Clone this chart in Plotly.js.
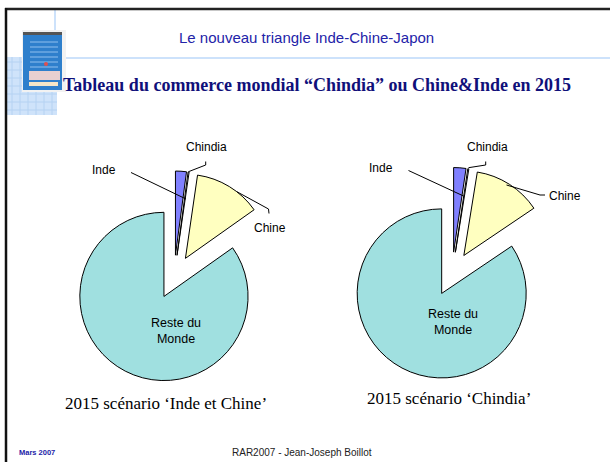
<!DOCTYPE html>
<html>
<head>
<meta charset="utf-8">
<script src="https://cdn.plot.ly/plotly-3.0.1.min.js"></script>
<style>html,body{margin:0;padding:0;background:#fff;}#chart{width:610px;height:462px;}</style>
</head>
<body>
<div id="chart"></div>
<script>
// ---- data ----
var categories = ["Inde", "Chindia", "Chine", "Reste du Monde"];
var valuesIndeEtChine = [2.1, 0.2, 12.9, 84.8];
var valuesChindia = [2.35, 0.2, 13.0, 84.45];
var sliceColors = ["#8080FF", "#FFFFFF", "#FFFFC0", "#A0E0E0"];
var pieLabels = ["Inde", "Chindia", "Chine", "Reste du<br>Monde"];
var slideTitle = "Le nouveau triangle Inde-Chine-Japon";
var slideSubtitle = "Tableau du commerce mondial \u201cChindia\u201d ou Chine&Inde en 2015";
var captions = ["2015 sc\u00e9nario \u2018Inde et Chine\u2019", "2015 sc\u00e9nario \u2018Chindia\u2019"];
var footerLeft = "Mars 2007";
var footerCenter = "RAR2007 - Jean-Joseph Boillot";

// ---- layout helpers (pixel -> paper) ----
var W = 610, H = 462;
function px(x){ return x / W; }
function py(y){ return 1 - y / H; }
function box(cx, cy, s){ return {x:[px(cx - s/2), px(cx + s/2)], y:[py(cy + s/2), py(cy - s/2)]}; }

var PULL = 0.26;
function pieTrace(vals, dom){
  return {
    type: "pie", labels: categories, values: vals, sort: false,
    direction: "clockwise", rotation: 0, pull: PULL,
    marker: {colors: sliceColors, line: {color: "#000", width: 1}},
    textinfo: "none", hoverinfo: "skip", showlegend: false, domain: dom
  };
}
var data = [
  pieTrace(valuesIndeEtChine, box(174, 277, 212)),
  pieTrace(valuesChindia, box(452, 274, 213))
];

var sans = "Liberation Sans, Arial, sans-serif";
var serif = "Liberation Serif, Times New Roman, serif";
function ann(text, x, y, size, opts){
  var a = {text: text, x: px(x), y: py(y), xref: "paper", yref: "paper", showarrow: false,
    xanchor: "center", yanchor: "middle", font: {family: sans, size: size, color: "#000"}};
  for (var k in opts) a[k] = opts[k];
  return a;
}
var annotations = [
  ann(slideTitle, 306, 38, 15, {font: {family: sans, size: 15, color: "#2323A8"}}),
  ann("<b>" + slideSubtitle + "</b>", 317, 85, 18, {font: {family: serif, size: 18, color: "#10107A"}}),
  // left pie labels
  ann(pieLabels[0], 104, 170, 12), ann(pieLabels[1], 206, 147, 12), ann(pieLabels[2], 270, 228, 12),
  ann(pieLabels[3], 176, 331, 12.5),
  // right pie labels
  ann(pieLabels[0], 381, 168, 12), ann(pieLabels[1], 487, 147, 12), ann(pieLabels[2], 565, 196, 12),
  ann(pieLabels[3], 453, 322, 12.5),
  ann(captions[0], 166, 403, 17, {font: {family: serif, size: 17, color: "#000"}}),
  ann(captions[1], 449, 398, 17, {font: {family: serif, size: 17, color: "#000"}}),
  ann("<b>" + footerLeft + "</b>", 37, 452, 7.5, {font: {family: sans, size: 7.5, color: "#2323A8"}}),
  ann(footerCenter, 302, 452, 10, {font: {family: sans, size: 10, color: "#222"}})
];

function pathPx(pts){
  return pts.map(function(p, i){ return (i ? "L" : "M") + px(p[0]) + "," + py(p[1]); }).join(" ");
}
function line(pts, color, width){
  return {type: "path", xref: "paper", yref: "paper", path: pathPx(pts), line: {color: color, width: width}};
}
function rect(x0, y0, x1, y1, fill, lc, lw){
  return {type: "rect", xref: "paper", yref: "paper", x0: px(x0), x1: px(x1), y0: py(y1), y1: py(y0),
    fillcolor: fill, line: {color: lc || fill, width: lw || 0}, layer: "above"};
}
var shapes = [];
// slide decoration: light blue grid block
shapes.push(rect(7, 57, 57, 115, "#CFE3FA"));
for (var gx = 12; gx < 57; gx += 8) shapes.push(line([[gx, 57], [gx, 115]], "#B5D2F2", 1));
for (var gy = 62; gy < 115; gy += 8) shapes.push(line([[7, gy], [57, gy]], "#B5D2F2", 1));
// light blue rules
shapes.push(line([[55, 9], [55, 57]], "#BCD9FA", 1.5));
shapes.push(line([[55, 58], [610, 58]], "#BCD9FA", 1.5));
// book image
shapes.push(rect(22, 30, 66, 92, "#F2F2F2"));
shapes.push(rect(23, 32, 62, 90, "#2E7FCC"));
shapes.push(rect(23, 32, 62, 35, "#555"));
for (var by = 42; by < 68; by += 5) shapes.push(line([[30, by], [58, by]], "#8FC0EE", 1));
shapes.push(rect(29, 71, 60, 80, "#E8D0D0"));
shapes.push(rect(29, 82, 58, 86, "#F5E6C8"));
shapes.push({type: "circle", xref: "paper", yref: "paper", x0: px(44), x1: px(48), y0: py(66), y1: py(62), fillcolor: "#E05050", line: {width: 0}, layer: "above"});
// slide frame
shapes.push(line([[5, 9], [610, 9]], "#222", 2.5));
shapes.push(line([[6, 8], [6, 462]], "#111", 2.5));
// leader lines left pie
shapes.push(line([[131, 172.5], [186, 199]], "#000", 1));
shapes.push(line([[205.7, 161.5], [205.7, 165], [188.5, 171.7]], "#000", 1));
shapes.push(line([[236.5, 191.5], [268.5, 209], [269, 213.5]], "#000", 1));
// leader lines right pie
shapes.push(line([[408.5, 170.5], [463.5, 196]], "#000", 1));
shapes.push(line([[485.7, 161.5], [485.7, 165], [468.5, 167.7]], "#000", 1));
shapes.push(line([[506.5, 185], [540, 195], [545, 195]], "#000", 1));

var layout = {
  width: W, height: H, margin: {l: 0, r: 0, t: 0, b: 0},
  paper_bgcolor: "#fff", plot_bgcolor: "#fff", showlegend: false,
  annotations: annotations, shapes: shapes
};
Plotly.newPlot("chart", data, layout, {staticPlot: true, displayModeBar: false});
</script>
</body>
</html>
